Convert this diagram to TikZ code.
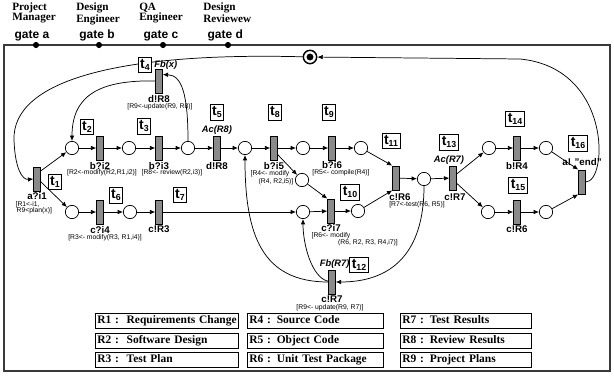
\documentclass[tikz,border=0pt]{standalone}
\usepackage{fontspec}
\setmainfont{Liberation Serif}
\setsansfont{Liberation Sans}
\usepackage{tikz}
\usetikzlibrary{arrows.meta, positioning}
\definecolor{barfill}{HTML}{8A8A8A}
\definecolor{framegray}{HTML}{3A3A3A}
\newcommand{\tsub}[1]{t\raisebox{-0.35ex}{\fontsize{6.6}{7}\selectfont #1}}
\tikzset{
  place/.style={
    circle, draw, fill=white, line width=0.55pt,
    minimum size=10pt, inner sep=0pt,
  },
  trans/.style={
    rectangle, draw, fill=barfill, line width=0.55pt,
    minimum width=5pt, minimum height=18pt, inner sep=0pt,
  },
  tbox/.style={
    rectangle, draw, fill=white, line width=0.55pt,
    inner sep=1.5pt, minimum height=11pt,
    font=\sffamily\bfseries\fontsize{10.5}{11}\selectfont,
  },
  act/.style={inner sep=0.5pt, font=\sffamily\bfseries\fontsize{7.3}{8}\selectfont},
  guard/.style={inner sep=0.5pt, font=\sffamily\bfseries\itshape\fontsize{7}{8}\selectfont},
  upd/.style={inner sep=0.3pt, font=\sffamily\fontsize{5.1}{5.5}\selectfont},
  role/.style={anchor=north west, align=left, inner sep=0pt, font=\bfseries\fontsize{8.4}{7.6}\selectfont},
  gatelbl/.style={inner sep=0pt, font=\sffamily\bfseries\fontsize{9}{10}\selectfont},
  gate/.style={circle, fill, inner sep=0pt, minimum size=4.6pt},
  legbox/.style={
    rectangle, draw, line width=0.6pt, anchor=west, align=left,
    inner sep=1.5pt, text width=#1, text height=6.3pt, text depth=1.9pt,
    font=\bfseries\fontsize{8.6}{9}\selectfont,
  },
  flow/.style={-{Latex[length=4pt,width=3.4pt]}, line width=0.55pt},
}

\begin{document}
\begin{tikzpicture}[x=0.75pt, y=-0.75pt]
  \useasboundingbox (0,0) rectangle (614,377);

  % roles and gates
  \node[role] (pm) at (12,2.5) {Project\\Manager};
  \node[role] (de) at (76,2.5) {Design\\Engineer};
  \node[role] (qa) at (139,2.5) {QA\\Engineer};
  \node[role] (dr) at (203,2.5) {Design\\Reviewew};

  \draw[framegray, line width=0.8pt] (4,45) rectangle (610,371);

  \node[gate, label={[gatelbl, xshift=-3pt]above:gate a}] (ga) at (36,45) {};
  \node[gate, label={[gatelbl, xshift=-1.5pt]above:gate b}] (gb) at (99,45) {};
  \node[gate, label={[gatelbl, xshift=-1.5pt]above:gate c}] (gc) at (163,45) {};
  \node[gate, label={[gatelbl, xshift=-2pt]above:gate d}] (gd) at (228,45) {};

  % places
  \node[place, line width=1.1pt] (p0) at (310,57) {};
  \fill (p0.center) circle (2.6pt);
  \node[place] (p1) at (72,148) {};
  \node[place] (p2) at (129,148) {};
  \node[place] (p3) at (188,148) {};
  \node[place] (p4) at (245,148) {};
  \node[place] (p5) at (303,148) {};
  \node[place] (p6) at (361,148) {};
  \node[place] (p7) at (72,212) {};
  \node[place] (p8) at (130,212) {};
  \node[place] (p9) at (303,212) {};
  \node[place] (p10) at (302,180) {};
  \node[place] (p11) at (358,211) {};
  \node[place] (p12) at (424,179) {};
  \node[place] (p13) at (489,148) {};
  \node[place] (p14) at (546,148) {};
  \node[place] (p15) at (488,212) {};
  \node[place] (p16) at (546,212) {};

  % transitions
  \node[trans] (t1) at (37,179) {};
  \node[trans] (t2) at (100,148) {};
  \node[trans] (t3) at (159,148) {};
  \node[trans] (t4) at (159,81) {};
  \node[trans] (t5) at (217,148) {};
  \node[trans] (t6) at (100,212) {};
  \node[trans] (t7) at (159,212) {};
  \node[trans] (t8) at (274,148) {};
  \node[trans] (t9) at (332,148) {};
  \node[trans] (t10) at (331,211) {};
  \node[trans] (t11) at (396,178) {};
  \node[trans] (t12) at (332,282) {};
  \node[trans] (t13) at (453,178) {};
  \node[trans] (t14) at (517,148) {};
  \node[trans] (t15) at (517,212) {};
  \node[trans] (t16) at (582,182) {};

  % arcs
  \draw[flow] (p0) .. controls (120,52) and (12,80) .. (14,140)
              .. controls (15,168) and (22,180) .. (t1.west);
  \draw[flow] (t16.east) .. controls (608,182) and (612,68) .. (520,59) -- (p0);
  \draw[flow] ([yshift=6pt]t1.east) -- (p1);
  \draw[flow] ([yshift=-2pt]t1.east) -- (p7);
  \draw[flow] (p1) -- (t2);
  \draw[flow] (t2) -- (p2);
  \draw[flow] (p2) -- (t3);
  \draw[flow] (t3) -- (p3);
  \draw[flow] (p3) -- (t5);
  \draw[flow] (p3) .. controls (188,95) and (182,75) .. ([yshift=-4.5pt]t4.north east);
  \draw[flow] (t4) .. controls (100,80) and (72,95) .. (p1);
  \draw[flow] (t5) -- (p4);
  \draw[flow] (p4) -- (t8);
  \draw[flow] (t8) -- (p5);
  \draw[flow] (p5) -- (t9);
  \draw[flow] (t9) -- (p6);
  \draw[flow] ([yshift=-5pt]t8.east) -- (p10);
  \draw[flow] (p10) -- (t10.north west);
  \draw[flow] (p7) -- (t6);
  \draw[flow] (t6) -- (p8);
  \draw[flow] (p8) -- (t7);
  \draw[flow] (t7) -- (p9);
  \draw[flow] (p9) -- (t10);
  \draw[flow] (t10) -- (p11);
  \draw[flow] (p6) -- (t11.north west);
  \draw[flow] (p11) -- (t11.south west);
  \draw[flow] (t11) -- (p12);
  \draw[flow] (p12) -- (t13);
  \draw[flow] (p12) .. controls (424,255) and (390,282) .. (t12.east);
  \draw[flow] (t12) .. controls (262,282) and (245,235) .. (p4);
  \draw[flow] (t12) .. controls (312,278) and (303,245) .. (p9);
  \draw[flow] ([yshift=3pt]t13.east) -- (p13);
  \draw[flow] ([yshift=-4pt]t13.east) -- (p15);
  \draw[flow] (p13) -- (t14);
  \draw[flow] (t14) -- (p14);
  \draw[flow] (p14) -- (t16.north west);
  \draw[flow] (p15) -- (t15);
  \draw[flow] (t15) -- (p16);
  \draw[flow] (p16) -- (t16.south west);

  % transition names
  \node[tbox] (b1) at (55,182) {\tsub{1}};
  \node[tbox] (b2) at (87,127) {\tsub{2}};
  \node[tbox] (b3) at (144,126) {\tsub{3}};
  \node[tbox] (b4) at (145,65) {\tsub{4}};
  \node[tbox] (b5) at (217,112) {\tsub{5}};
  \node[tbox] (b6) at (116,195) {\tsub{6}};
  \node[tbox] (b7) at (180,195) {\tsub{7}};
  \node[tbox] (b8) at (275,112) {\tsub{8}};
  \node[tbox] (b9) at (329,112) {\tsub{9}};
  \node[tbox] (b10) at (350,192) {\tsub{10}};
  \node[tbox] (b11) at (391,141) {\tsub{11}};
  \node[tbox] (b12) at (359,265) {\tsub{12}};
  \node[tbox] (b13) at (449,142) {\tsub{13}};
  \node[tbox] (b14) at (515,119) {\tsub{14}};
  \node[tbox] (b15) at (518,185) {\tsub{15}};
  \node[tbox] (b16) at (578,143) {\tsub{16}};

  % actions
  \node[act, below=0pt of t1] (a1) {a?i1};
  \node[act, below=0.5pt of t2] (a2) {b?i2};
  \node[act, below=0.5pt of t3] (a3) {b?i3};
  \node[act, below=0.5pt of t4] (a4) {d!R8};
  \node[act, below=0.5pt of t5] (a5) {d!R8};
  \node[act, below=0.5pt of t6] (a6) {c?i4};
  \node[act, below=0.5pt of t7] (a7) {c!R3};
  \node[act, below=0.5pt of t8] (a8) {b?i5};
  \node[act, below=0pt of t9] (a9) {b?i6};
  \node[act, below=0pt of t10] (a10) {c?i7};
  \node[act, below=2pt of t11, xshift=3pt] (a11) {c!R6};
  \node[act, below=0.5pt of t12] (a12) {c!R7};
  \node[act, below=2pt of t13, xshift=1.5pt] (a13) {c!R7};
  \node[act, below=0.5pt of t14] (a14) {b!R4};
  \node[act, below=0.5pt of t15] (a15) {c!R6};
  \node[act, above=2pt of t16] (a16) {a! "end"};

  % guards
  \node[guard, right=1pt of b4] (g4) {Fb(x)};
  \node[guard, above=0.5pt of t5] (g5) {Ac(R8)};
  \node[guard, above=0.5pt of t12, xshift=2pt] (g12) {Fb(R7)};
  \node[guard, above=0.5pt of t13, xshift=-3pt] (g13) {Ac(R7)};

  % updates
  \node[upd, anchor=west] (u1a) at (15,204.5) {[R1<-i1,};
  \node[upd, anchor=west] (u1b) at (16,210.5) {R9<plan(x)]};
  \node[upd] (u2) at (102,173) {[R2<-modify(R2,R1,i2)]};
  \node[upd] (u3) at (172,173) {[R8<- review(R2,i3)]};
  \node[upd] (u4) at (160,107) {[R9<-update(R9, R8)]};
  \node[upd] (u6) at (105,238) {[R3<- modify(R3, R1,i4)]};
  \node[upd] (u8a) at (270,174) {[R4<- modify};
  \node[upd] (u8b) at (276,182) {(R4, R2,i5)]};
  \node[upd] (u9) at (341,172.5) {[R5<- compile(R4)]};
  \node[upd] (u10a) at (331,236) {[R6<- modify};
  \node[upd] (u10b) at (368,243) {(R6, R2, R3, R4,i7)]};
  \node[upd] (u11) at (417,205) {[R7<-test(R6, R5)]};
  \node[upd] (u12) at (330,308) {[R9<- update(R9, R7)]};

  % resources
  \node[legbox=104.5pt] (r1) at (95,320.5) {R1 :\ \ Requirements Change};
  \node[legbox=104.5pt] (r2) at (95,340.5) {R2 :\ \ Software Design};
  \node[legbox=104.5pt] (r3) at (95,360) {R3 :\ \ Test Plan};
  \node[legbox=99pt] (r4) at (247,320.5) {R4 : Source Code};
  \node[legbox=99pt] (r5) at (247,340.5) {R5 : Object Code};
  \node[legbox=99pt] (r6) at (247,360) {R6 : Unit Test Package};
  \node[legbox=95pt] (r7) at (400,320.5) {R7 : Test Results};
  \node[legbox=95pt] (r8) at (400,340.5) {R8 : Review Results};
  \node[legbox=95pt] (r9) at (400,360) {R9 : Project Plans};

\end{tikzpicture}
\end{document}
